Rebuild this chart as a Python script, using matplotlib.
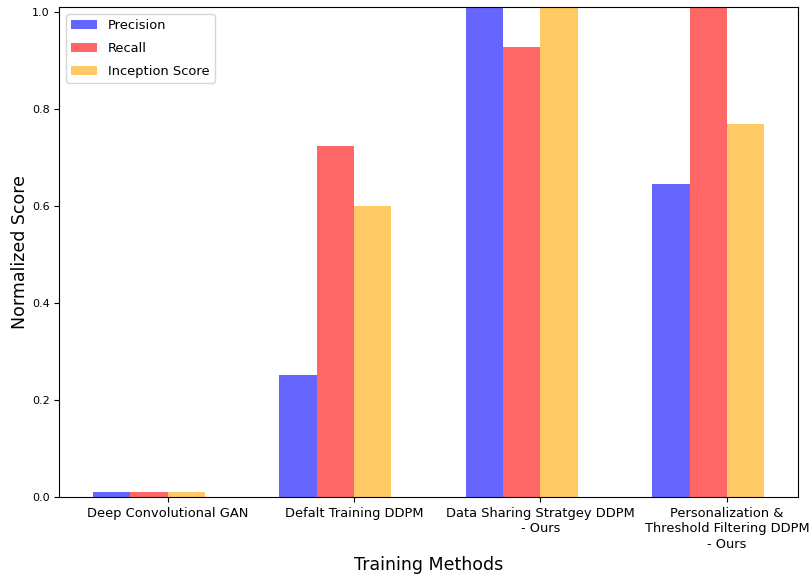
import numpy as np
import matplotlib.pyplot as plt

methods = ['Deep Convolutional GAN', 'Defalt Training DDPM',
           'Data Sharing Stratgey DDPM\n- Ours',
           'Personalization &\nThreshold Filtering DDPM\n- Ours']
precision = [0.011, 0.251, 1.05, 0.645]
recall = [0.011, 0.724, 0.928, 1.05]
inception = [0.011, 0.600, 1.05, 0.769]

x = np.arange(len(methods))
width = 0.2

fig, ax = plt.subplots(figsize=(8.09, 5.74), dpi=100)
ax.bar(x - 0.3, precision, width, color='blue', alpha=0.6, label='Precision')
ax.bar(x - 0.1, recall, width, color='red', alpha=0.6, label='Recall')
ax.bar(x + 0.1, inception, width, color='orange', alpha=0.6, label='Inception Score')

ax.set_xticks(x)
ax.set_xticklabels(methods, fontsize=9.4, linespacing=1.25)
ax.tick_params(axis='y', labelsize=8)
ax.set_ylim(0, 1.01)
ax.set_xlabel('Training Methods', fontsize=12.5)
ax.set_ylabel('Normalized Score', fontsize=12.5, labelpad=2)
ax.legend(fontsize=9.4, loc='upper left', labelspacing=0.75)

plt.subplots_adjust(left=0.0735, right=0.986, top=0.987, bottom=0.134)
plt.savefig('out.png', dpi=100)
